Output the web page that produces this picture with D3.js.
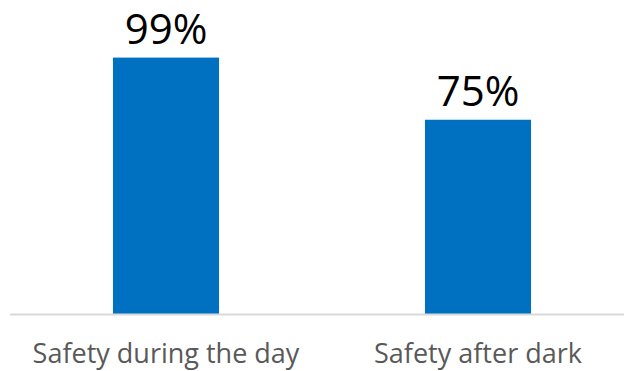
<!DOCTYPE html>
<html>
<head>
<meta charset="utf-8">
<script src="https://cdn.jsdelivr.net/npm/d3@7"></script>
<style>
  html, body { margin: 0; padding: 0; background: #ffffff; }
  svg { display: block; }
</style>
</head>
<body>
<svg id="chart" width="624" height="371"></svg>
<script>
// Share of respondents who feel safe
const categories = ["Safety during the day", "Safety after dark"];
const values = [99, 75];
const valueLabels = ["99%", "75%"];

const width = 624, height = 371;
const svg = d3.select("#chart");

const x = d3.scaleBand()
  .domain(categories)
  .range([10, 634])
  .paddingInner(0.66)
  .paddingOuter(0.33);

const y = d3.scaleLinear()
  .domain([0, 100])
  .range([314, 55]);

// Bars
svg.append("g")
  .selectAll("rect")
  .data(categories)
  .join("rect")
  .attr("x", d => x(d))
  .attr("y", (d, i) => y(values[i]))
  .attr("width", x.bandwidth())
  .attr("height", (d, i) => y(0) - y(values[i]))
  .attr("fill", "#0070C0");

// Baseline axis
const axis = svg.append("g")
  .attr("transform", `translate(0,${y(0)})`)
  .call(d3.axisBottom(x).tickSize(0).tickPadding(0).tickFormat(""));
axis.select(".domain")
  .attr("d", `M10,0.5H${width}`)
  .attr("stroke", "#d9d9d9")
  .attr("stroke-width", 2);

// Category labels
svg.append("g")
  .selectAll("text")
  .data(categories)
  .join("text")
  .attr("x", d => x(d) + x.bandwidth() / 2)
  .attr("y", 363)
  .attr("text-anchor", "middle")
  .attr("font-family", "'Open Sans', sans-serif")
  .attr("font-size", 27)
  .attr("fill", "#595959")
  .text(d => d);

// Value labels
svg.append("g")
  .selectAll("text")
  .data(categories)
  .join("text")
  .attr("x", d => x(d) + x.bandwidth() / 2)
  .attr("y", (d, i) => y(values[i]) - 14)
  .attr("text-anchor", "middle")
  .attr("font-family", "'Open Sans', sans-serif")
  .attr("font-size", 42)
  .attr("fill", "#000000")
  .text((d, i) => valueLabels[i]);
</script>
</body>
</html>
